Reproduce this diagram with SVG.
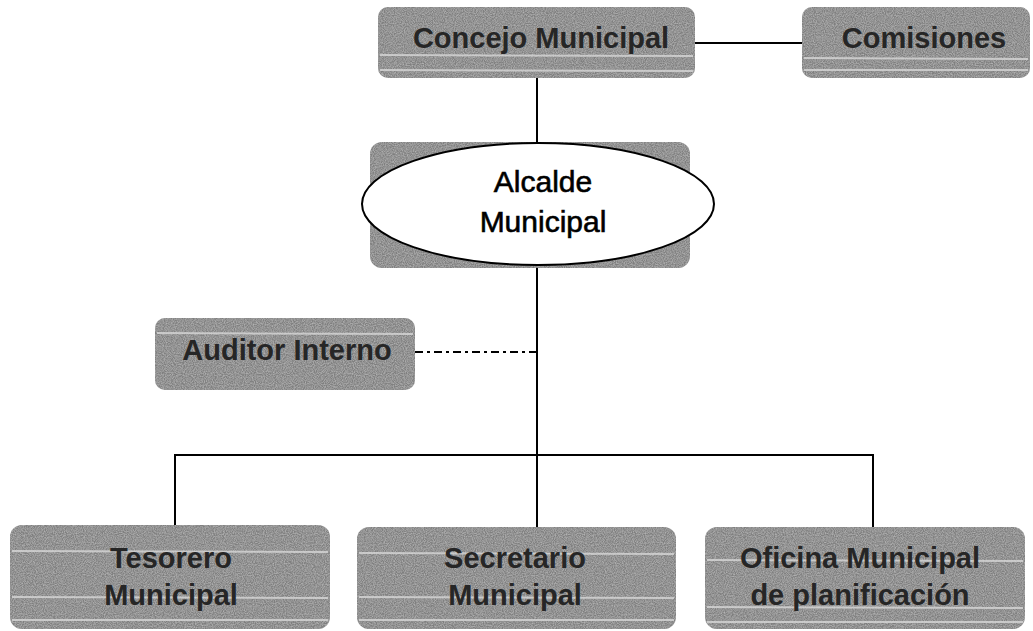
<svg xmlns="http://www.w3.org/2000/svg" width="1033" height="631" viewBox="0 0 1033 631">
<defs>
<filter id="grain" x="0" y="0" width="100%" height="100%">
<feTurbulence type="fractalNoise" baseFrequency="0.9" numOctaves="2" seed="3" result="n"/>
<feColorMatrix in="n" type="matrix" values="0 0 0 0 0.55  0 0 0 0 0.55  0 0 0 0 0.55  0 0 0 1.2 -0.35" result="g"/>
<feComposite in="g" in2="SourceGraphic" operator="in" result="gc"/>
<feMerge><feMergeNode in="SourceGraphic"/><feMergeNode in="gc"/></feMerge>
</filter>
<style>
.box{fill:#7f7f7f;filter:url(#grain)}
.stripe{stroke:#d8d8d8;stroke-width:2;opacity:0.8}
.lbl{font-family:"Liberation Sans",Arial,sans-serif;font-weight:bold;font-size:29px;fill:#262626;text-anchor:middle}
.lblw{font-family:"Liberation Sans",Arial,sans-serif;font-size:30px;fill:#000;stroke:#000;stroke-width:0.6;text-anchor:middle}
.ln{stroke:#000;stroke-width:2;fill:none}
</style>
</defs>
<rect width="1033" height="631" fill="#fff"/>
<g id="connectors">
<line class="ln" x1="695" y1="43" x2="802" y2="43"/>
<line class="ln" x1="537" y1="78" x2="537" y2="143"/>
<line class="ln" x1="537" y1="263" x2="537" y2="528"/>
<line class="ln" x1="415" y1="352" x2="537" y2="352" stroke-dasharray="8,4,3,4"/>
<polyline class="ln" points="175,527 175,455 873,455 873,527"/>
</g>
<g id="concejo">
<rect class="box" x="378" y="7" width="317" height="71" rx="10"/>
<line class="stripe" x1="380" y1="55" x2="693" y2="56"/>
<line class="stripe" x1="380" y1="70" x2="693" y2="71"/>
<text class="lbl" x="541" y="48">Concejo Municipal</text>
</g>
<g id="comisiones">
<rect class="box" x="802" y="7" width="228" height="71" rx="10"/>
<line class="stripe" x1="804" y1="58" x2="1028" y2="59"/>
<line class="stripe" x1="804" y1="70" x2="1028" y2="70"/>
<text class="lbl" x="924" y="48">Comisiones</text>
</g>
<g id="alcalde">
<rect class="box" x="370" y="142" width="320" height="126" rx="12"/>
<ellipse cx="538" cy="204" rx="176" ry="61" fill="#fff" stroke="#000" stroke-width="2"/>
<text class="lblw" x="543" y="192">Alcalde</text>
<text class="lblw" x="543" y="232">Municipal</text>
</g>
<g id="auditor">
<rect class="box" x="155" y="318" width="260" height="72" rx="10"/>
<line class="stripe" x1="157" y1="333" x2="413" y2="334"/>
<text class="lbl" x="287" y="360">Auditor Interno</text>
</g>
<g id="tesorero">
<rect class="box" x="10" y="525" width="320" height="104" rx="12"/>
<line class="stripe" x1="12" y1="551" x2="328" y2="552" stroke-width="4"/>
<line class="stripe" x1="12" y1="597" x2="328" y2="598"/>
<line class="stripe" x1="12" y1="620" x2="328" y2="620"/>
<text class="lbl" x="171" y="568">Tesorero</text>
<text class="lbl" x="171" y="605">Municipal</text>
</g>
<g id="secretario">
<rect class="box" x="357" y="527" width="319" height="102" rx="12"/>
<line class="stripe" x1="359" y1="553" x2="674" y2="554" stroke-width="4"/>
<line class="stripe" x1="359" y1="597" x2="674" y2="598"/>
<line class="stripe" x1="359" y1="620" x2="674" y2="620"/>
<text class="lbl" x="515" y="568">Secretario</text>
<text class="lbl" x="515" y="605">Municipal</text>
</g>
<g id="oficina">
<rect class="box" x="705" y="527" width="320" height="102" rx="12"/>
<line class="stripe" x1="707" y1="560" x2="1023" y2="561" stroke-width="4"/>
<line class="stripe" x1="707" y1="607" x2="1023" y2="608"/>
<line class="stripe" x1="707" y1="622" x2="1023" y2="622"/>
<text class="lbl" x="860" y="568">Oficina Municipal</text>
<text class="lbl" x="860" y="605">de planificación</text>
</g>
</svg>
